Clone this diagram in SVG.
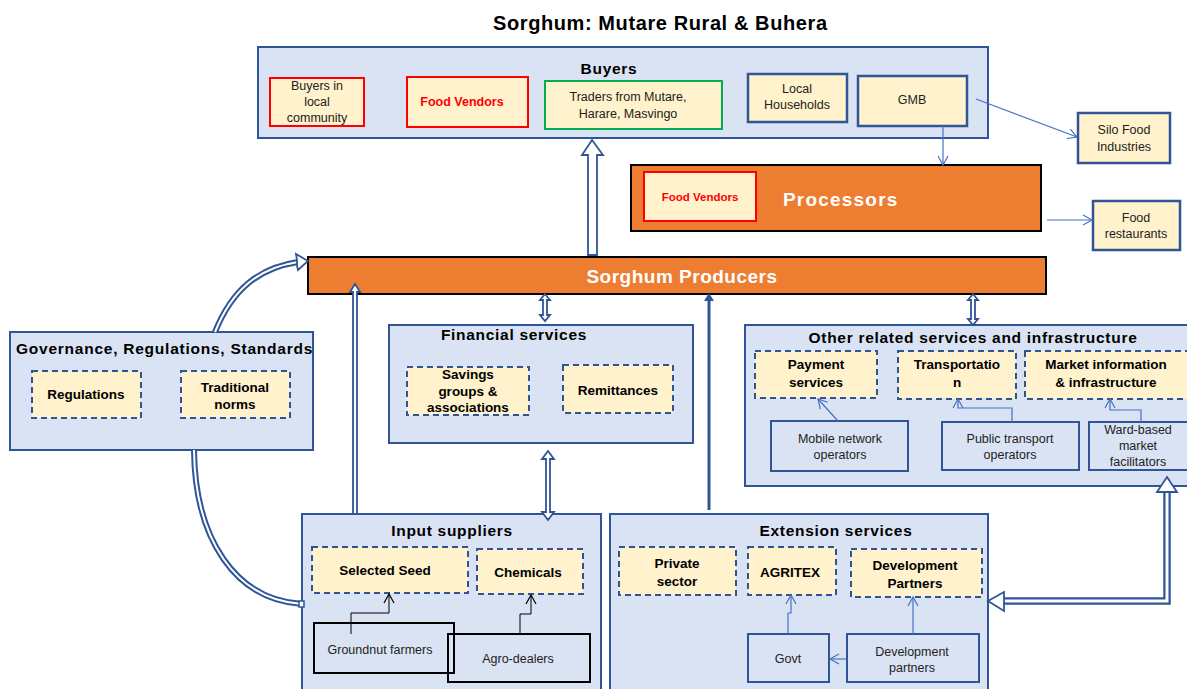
<svg xmlns="http://www.w3.org/2000/svg" width="1187" height="689" viewBox="0 0 1187 689">
<style>
text{font-family:"Liberation Sans",Arial,sans-serif;fill:#000}
.grp{fill:#dae3f3;stroke:#2f5597;stroke-width:2}
.dash{fill:#fff2cc;stroke:#2f5597;stroke-width:2;stroke-dasharray:6,4}
.solid{fill:#fff2cc;stroke:#2f5597;stroke-width:2.5}
.blue{fill:#dae3f3;stroke:#2f5597;stroke-width:2}
.red{fill:#fff2cc;stroke:#ff0000;stroke-width:2}
.orange{fill:#ed7d31;stroke:#000;stroke-width:2}
.ttl{font-weight:bold;font-size:15.5px;letter-spacing:0.7px}
.lbl{font-weight:bold;font-size:13.5px}
.sm{font-size:12.5px;fill:#222}
.thin{fill:none;stroke:#4472c4;stroke-width:1.2}
.hol{fill:#fff;stroke:#2f5597;stroke-width:1.8;stroke-linejoin:miter}
</style>
<defs>
<marker id="v" markerWidth="12" markerHeight="12" refX="10" refY="6" orient="auto" markerUnits="userSpaceOnUse">
<path d="M1,1 L10,6 L1,11" fill="none" stroke="#4472c4" stroke-width="1.2"/>
</marker>
<marker id="vk" markerWidth="12" markerHeight="12" refX="10" refY="6" orient="auto" markerUnits="userSpaceOnUse">
<path d="M1,1 L10,6 L1,11" fill="none" stroke="#000" stroke-width="1.2"/>
</marker>
</defs>
<rect width="1187" height="689" fill="#fff"/>
<text x="660" y="30" text-anchor="middle" font-weight="bold" font-size="20" textLength="334">Sorghum: Mutare Rural &amp; Buhera</text>

<g id="buyers">
<rect class="grp" x="258" y="47" width="730" height="91"/>
<text class="ttl" x="609" y="74" text-anchor="middle">Buyers</text>
</g>
<g id="buyers-local">
<rect class="red" x="270" y="78" width="94" height="48"/>
<text class="sm" x="317" y="90" text-anchor="middle">Buyers in</text>
<text class="sm" x="317" y="106" text-anchor="middle">local</text>
<text class="sm" x="317" y="122" text-anchor="middle">community</text>
</g>
<g id="buyers-foodvendors">
<rect class="red" x="407" y="77" width="121" height="50"/>
<text x="462" y="106" text-anchor="middle" font-weight="bold" font-size="12.5" style="fill:#ff0000">Food Vendors</text>
</g>
<g id="traders">
<rect x="545" y="81" width="177" height="48" fill="#fff2cc" stroke="#00b050" stroke-width="2"/>
<text class="sm" x="628" y="101" text-anchor="middle">Traders from Mutare,</text>
<text class="sm" x="628" y="118" text-anchor="middle">Harare, Masvingo</text>
</g>
<g id="households">
<rect class="solid" x="748" y="74" width="99" height="48"/>
<text class="sm" x="797" y="93" text-anchor="middle">Local</text>
<text class="sm" x="797" y="109" text-anchor="middle">Households</text>
</g>
<g id="gmb">
<rect class="solid" x="858" y="76" width="109" height="50"/>
<text class="sm" x="912" y="104" text-anchor="middle">GMB</text>
</g>
<g id="silo">
<rect class="solid" x="1078" y="113" width="92" height="50"/>
<text class="sm" x="1124" y="134" text-anchor="middle">Silo Food</text>
<text class="sm" x="1124" y="151" text-anchor="middle">Industries</text>
</g>
<g id="processors">
<rect class="orange" x="631" y="165" width="410" height="66"/>
<rect class="red" x="644" y="172" width="112" height="49"/>
<text x="700" y="201" text-anchor="middle" font-weight="bold" font-size="11.5" style="fill:#ff0000">Food Vendors</text>
<text x="783" y="206" font-weight="bold" font-size="19" letter-spacing="1.2" style="fill:#fff">Processors</text>
</g>
<g id="restaurants">
<rect class="solid" x="1093" y="201" width="87" height="49"/>
<text class="sm" x="1136" y="222" text-anchor="middle">Food</text>
<text class="sm" x="1136" y="238" text-anchor="middle">restaurants</text>
</g>
<g id="producers">
<rect class="orange" x="308" y="257" width="738" height="37"/>
<text x="682" y="283" text-anchor="middle" font-weight="bold" font-size="19" letter-spacing="0.5" style="fill:#fff">Sorghum Producers</text>
</g>
<g id="governance">
<rect class="grp" x="10" y="332" width="303" height="118"/>
<text class="ttl" x="16" y="354" textLength="297">Governance, Regulations, Standards</text>
<rect class="dash" x="32" y="371" width="109" height="47"/>
<text class="lbl" x="86" y="399" text-anchor="middle">Regulations</text>
<rect class="dash" x="181" y="371" width="109" height="47"/>
<text class="lbl" x="235" y="392" text-anchor="middle">Traditional</text>
<text class="lbl" x="235" y="409" text-anchor="middle">norms</text>
</g>
<g id="financial">
<rect class="grp" x="389" y="325" width="304" height="118"/>
<text class="ttl" x="514" y="340" text-anchor="middle">Financial services</text>
<rect class="dash" x="407" y="367" width="122" height="48"/>
<text class="lbl" x="468" y="379" text-anchor="middle">Savings</text>
<text class="lbl" x="468" y="396" text-anchor="middle">groups &amp;</text>
<text class="lbl" x="468" y="412" text-anchor="middle">associations</text>
<rect class="dash" x="563" y="365" width="110" height="48"/>
<text class="lbl" x="618" y="395" text-anchor="middle">Remittances</text>
</g>
<g id="other">
<rect class="grp" x="745" y="325" width="450" height="161"/>
<text class="ttl" x="973" y="343" text-anchor="middle" textLength="329">Other related services and infrastructure</text>
<rect class="dash" x="755" y="351" width="122" height="47"/>
<text class="lbl" x="816" y="369" text-anchor="middle">Payment</text>
<text class="lbl" x="816" y="387" text-anchor="middle">services</text>
<rect class="dash" x="898" y="351" width="118" height="48"/>
<text class="lbl" x="957" y="369" text-anchor="middle">Transportatio</text>
<text class="lbl" x="957" y="387" text-anchor="middle">n</text>
<rect class="dash" x="1025" y="351" width="170" height="48"/>
<text class="lbl" x="1106" y="369" text-anchor="middle">Market information</text>
<text class="lbl" x="1106" y="387" text-anchor="middle">&amp; infrastructure</text>
</g>
<g id="mobile">
<rect class="blue" x="771" y="421" width="137" height="50"/>
<text class="sm" x="840" y="443" text-anchor="middle">Mobile network</text>
<text class="sm" x="840" y="459" text-anchor="middle">operators</text>
</g>
<g id="publictransport">
<rect class="blue" x="942" y="422" width="137" height="48"/>
<text class="sm" x="1010" y="443" text-anchor="middle">Public transport</text>
<text class="sm" x="1010" y="459" text-anchor="middle">operators</text>
</g>
<g id="ward">
<rect class="blue" x="1089" y="422" width="106" height="48"/>
<text class="sm" x="1138" y="434" text-anchor="middle">Ward-based</text>
<text class="sm" x="1138" y="450" text-anchor="middle">market</text>
<text class="sm" x="1138" y="466" text-anchor="middle">facilitators</text>
</g>
<g id="input">
<rect class="grp" x="302" y="514" width="299" height="185"/>
<text class="ttl" x="452" y="536" text-anchor="middle">Input suppliers</text>
<rect class="dash" x="312" y="547" width="156" height="46"/>
<text class="lbl" x="385" y="575" text-anchor="middle">Selected Seed</text>
<rect class="dash" x="477" y="549" width="106" height="45"/>
<text class="lbl" x="528" y="577" text-anchor="middle">Chemicals</text>
</g>
<g id="groundnut">
<rect x="314" y="623" width="140" height="50" fill="none" stroke="#000" stroke-width="2"/>
<text class="sm" x="380" y="654" text-anchor="middle">Groundnut farmers</text>
</g>
<g id="agro">
<rect x="448" y="634" width="142" height="48" fill="none" stroke="#000" stroke-width="2"/>
<text class="sm" x="518" y="663" text-anchor="middle">Agro-dealers</text>
</g>
<g id="extension">
<rect class="grp" x="610" y="514" width="378" height="185"/>
<text class="ttl" x="836" y="536" text-anchor="middle">Extension services</text>
<rect class="dash" x="619" y="547" width="117" height="48"/>
<text class="lbl" x="677" y="568" text-anchor="middle">Private</text>
<text class="lbl" x="677" y="586" text-anchor="middle">sector</text>
<rect class="dash" x="748" y="547" width="88" height="48"/>
<text class="lbl" x="790" y="577" text-anchor="middle">AGRITEX</text>
<rect class="dash" x="851" y="549" width="131" height="48"/>
<text class="lbl" x="915" y="570" text-anchor="middle">Development</text>
<text class="lbl" x="915" y="588" text-anchor="middle">Partners</text>
</g>
<g id="govt">
<rect class="blue" x="748" y="634" width="81" height="48"/>
<text class="sm" x="788" y="663" text-anchor="middle">Govt</text>
</g>
<g id="devpartners">
<rect class="blue" x="847" y="634" width="132" height="48"/>
<text class="sm" x="912" y="656" text-anchor="middle">Development</text>
<text class="sm" x="912" y="672" text-anchor="middle">partners</text>
</g>

<g id="connectors">
<line class="thin" x1="976" y1="99" x2="1077" y2="137" marker-end="url(#v)"/>
<line class="thin" x1="943" y1="126" x2="943" y2="165" marker-end="url(#v)"/>
<line class="thin" x1="1047" y1="220" x2="1092" y2="220" marker-end="url(#v)"/>
<line class="thin" x1="838" y1="421" x2="818" y2="399" marker-end="url(#v)"/>
<polyline class="thin" points="1012,422 1012,408 958,408 958,399" marker-end="url(#v)"/>
<polyline class="thin" points="1141,422 1141,410 1110,410 1110,399" marker-end="url(#v)"/>
<polyline class="thin" points="788,634 788,613 791,613 791,595" marker-end="url(#v)"/>
<line class="thin" x1="913" y1="634" x2="913" y2="597" marker-end="url(#v)"/>
<line class="thin" x1="847" y1="659" x2="830" y2="659" marker-end="url(#v)"/>
<polyline points="351,634 351,613 389,613 389,594" fill="none" stroke="#000" stroke-width="1" marker-end="url(#vk)"/>
<polyline points="520,633 520,614 531,614 531,595" fill="none" stroke="#000" stroke-width="1" marker-end="url(#vk)"/>

<polygon class="hol" points="592,140 603,155 597,155 597,255 588,255 588,155 582,155"/>
<polygon class="hol" points="545,294 550,300 547,300 547,315 550,315 545,321 540,315 543,315 543,300 540,300"/>
<polygon class="hol" points="548,451 554,459 550,459 550,512 554,512 548,520 542,512 546,512 546,459 542,459"/>
<polygon class="hol" points="973,294 978,300 975,300 975,319 978,319 973,325 968,319 971,319 971,300 968,300"/>
<polygon class="hol" points="355,284 360,292 357,292 357,514 353,514 353,292 350,292"/>
<line x1="709" y1="510" x2="709" y2="300" stroke="#2f5597" stroke-width="3"/>
<polygon points="709,293 714,301 704,301" fill="#2f5597"/>

<path d="M215,332 C232,290 258,268 298,262" fill="none" stroke="#2f5597" stroke-width="6"/>
<path d="M215,332 C232,290 258,268 298,262" fill="none" stroke="#fff" stroke-width="2"/>
<polygon class="hol" points="308,261 296,254 297,260 297,266 298,270"/>
<path d="M194,450 C195,540 236,600 302,604" fill="none" stroke="#2f5597" stroke-width="6"/>
<path d="M194,450 C195,540 236,600 302,604" fill="none" stroke="#fff" stroke-width="2"/>
<rect x="299" y="601" width="5" height="6" fill="#fff" stroke="#2f5597" stroke-width="1.5"/>

<path d="M1167,490 L1167,601 L1002,601" fill="none" stroke="#2f5597" stroke-width="7.5"/>
<path d="M1167,490 L1167,601 L1002,601" fill="none" stroke="#fff" stroke-width="3"/>
<polygon class="hol" points="1167,477 1177,492 1157,492"/>
<polygon class="hol" points="988,601 1004,592 1004,611"/>
</g>
</svg>
